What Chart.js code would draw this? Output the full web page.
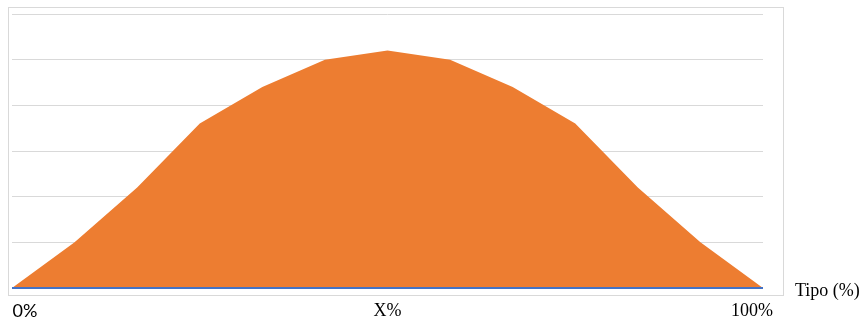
<!DOCTYPE html>
<html>
<head>
<meta charset="utf-8">
<script src="https://cdn.jsdelivr.net/npm/chart.js@4/dist/chart.umd.min.js"></script>
<style>
  html, body { margin: 0; padding: 0; background: #ffffff; }
  #wrap { width: 862px; height: 320px; position: relative; }
</style>
</head>
<body>
<div id="wrap"><canvas id="c" width="862" height="320"></canvas></div>
<script>
// Distribution of "Tipo (%)" from 0% to 100%
const categories = ['0', '1', '2', '3', '4', '5', '6', '7', '8', '9', '10', '11', '12'];
const distribution = [0, 1.0, 2.2, 3.6, 4.4, 5.0, 5.2, 5.0, 4.4, 3.6, 2.2, 1.0, 0];
const baseline = [0, 0, 0, 0, 0, 0, 0, 0, 0, 0, 0, 0, 0];
// x-axis labels shown under specific category indices
const axisLabels = [
  { index: 0, text: '0%', font: '18px Lato', dx: 13 },
  { index: 6, text: 'X%', font: '18px "Liberation Serif"', dx: 0 },
  { index: 12, text: '100%', font: '18px "Liberation Serif"', dx: -11 }
];
const axisTitle = 'Tipo (%)';

const frameAndLabels = {
  id: 'frameAndLabels',
  beforeDraw(chart) {
    const ctx = chart.ctx;
    ctx.save();
    ctx.strokeStyle = '#d9d9d9';
    ctx.lineWidth = 1;
    ctx.strokeRect(8.5, 7.5, 775, 288);
    ctx.restore();
  },
  afterDraw(chart) {
    const ctx = chart.ctx;
    const x = chart.scales.x;
    const area = chart.chartArea;
    ctx.save();
    ctx.fillStyle = '#000000';
    ctx.textBaseline = 'middle';
    ctx.textAlign = 'center';
    axisLabels.forEach(l => {
      ctx.font = l.font;
      ctx.fillText(l.text, x.getPixelForValue(l.index) + l.dx, area.bottom + 23);
    });
    ctx.textAlign = 'left';
    ctx.font = '18px "Liberation Serif"';
    ctx.fillText(axisTitle, 795, area.bottom + 3);
    ctx.restore();
  }
};

new Chart(document.getElementById('c'), {
  type: 'line',
  data: {
    labels: categories,
    datasets: [
      {
        data: baseline,
        borderColor: '#4472C4',
        borderWidth: 2,
        pointRadius: 0,
        fill: false,
        clip: false,
        order: 0
      },
      {
        data: distribution,
        borderColor: '#ED7D31',
        borderWidth: 0,
        backgroundColor: '#ED7D31',
        pointRadius: 0,
        fill: 'origin',
        tension: 0,
        order: 1
      }
    ]
  },
  options: {
    responsive: false,
    animation: false,
    layout: { padding: { left: 12, right: 99, top: 14, bottom: 32 } },
    plugins: { legend: { display: false }, tooltip: { enabled: false } },
    scales: {
      x: { display: false },
      y: {
        min: 0,
        max: 6,
        ticks: { display: false, stepSize: 1 },
        border: { display: false },
        grid: { color: '#d9d9d9', lineWidth: 1, drawTicks: false }
      }
    }
  },
  plugins: [frameAndLabels]
});
</script>
</body>
</html>
